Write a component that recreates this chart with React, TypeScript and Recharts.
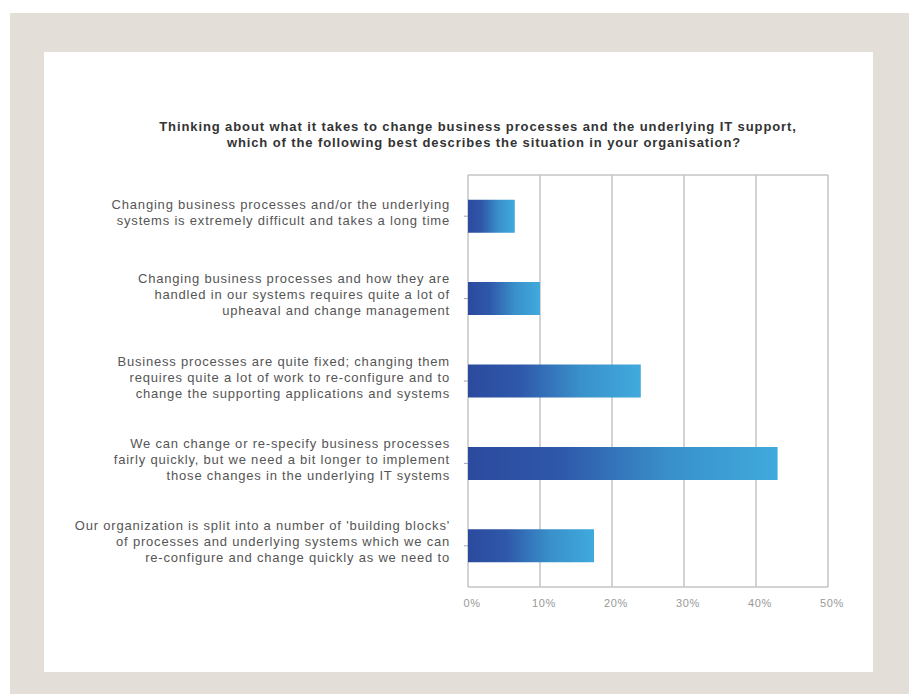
import React from "react";
import { BarChart, Bar, XAxis, YAxis, CartesianGrid } from "recharts";

const titleLines = [
  "Thinking about what it takes to change business processes and the underlying IT support,",
  "which of the following best describes the situation in your organisation?",
];

const categories = [
  "Changing business processes and/or the underlying|systems is extremely difficult and takes a long time",
  "Changing business processes and how they are|handled in our systems requires quite a lot of|upheaval and change management",
  "Business processes are quite fixed; changing them|requires quite a lot of work to re-configure and to|change the supporting applications and systems",
  "We can change or re-specify business processes|fairly quickly, but we need a bit longer to implement|those changes in the underlying IT systems",
  "Our organization is split into a number of 'building blocks'|of processes and underlying systems which we can|re-configure and change quickly as we need to",
];

const values = [6.5, 10, 24, 43, 17.5];
const xTicks = [0, 10, 20, 30, 40, 50];

const data = categories.map((c, i) => ({ name: c, value: values[i] }));

const FONT = "'Liberation Sans', Arial, Helvetica, sans-serif";

const YTick = (props: any) => {
  const { y, payload } = props;
  const lines: string[] = String(payload.value).split("|");
  const lh = 16;
  const startY = y - ((lines.length - 1) * lh) / 2 - 4;
  return (
    <g>
      <line x1={464} x2={468} y1={y} y2={y} stroke="#9aa4c0" strokeWidth={1} />
      <text x={450} y={startY} textAnchor="end" fontFamily={FONT} fontSize={13} letterSpacing={0.8} fill="#555">
        {lines.map((l, i) => (
          <tspan key={i} x={450} y={startY + i * lh} dominantBaseline="central">
            {l}
          </tspan>
        ))}
      </text>
    </g>
  );
};

const XTick = (props: any) => {
  const { x, y, payload } = props;
  return (
    <text x={x + 4} y={y + 12} textAnchor="middle" fontFamily={FONT} fontSize={11} letterSpacing={0.6} fill="#999">
      {payload.value}%
    </text>
  );
};

export default function App() {
  return (
    <div style={{ position: "absolute", left: 0, top: 0, width: 909, height: 694, background: "#fff", overflow: "hidden" }}>
      <div style={{ position: "absolute", left: 10, top: 13, width: 899, height: 681, background: "#e3dfd8" }} />
      <div style={{ position: "absolute", left: 44, top: 52, width: 829, height: 620, background: "#ffffff" }} />
      <div style={{ position: "absolute", left: 0, top: 0 }}>
        <BarChart
          width={909}
          height={694}
          data={data}
          layout="vertical"
          barCategoryGap="30%"
          margin={{ top: 175, right: 81, bottom: 77, left: 68 }}
        >
          <defs>
            <linearGradient id="barGrad" x1="0" y1="0" x2="1" y2="0">
              <stop offset="0%" stopColor="#2b4a9e" />
              <stop offset="30%" stopColor="#2f58aa" />
              <stop offset="65%" stopColor="#3990ca" />
              <stop offset="100%" stopColor="#40aadd" />
            </linearGradient>
          </defs>
          <text textAnchor="middle" fontFamily={FONT} fontSize={13} letterSpacing={0.9} fontWeight="bold" fill="#333">
            <tspan x={478} y={131}>{titleLines[0]}</tspan>
            <tspan x={484} y={147}>{titleLines[1]}</tspan>
          </text>
          <CartesianGrid
            stroke="#c4c4c4"
            strokeWidth={1.5}
            vertical={true}
            horizontal={true}
            horizontalCoordinatesGenerator={(p: any) => [p.offset.top, p.offset.top + p.offset.height]}
          />
          <XAxis
            type="number"
            domain={[0, 50]}
            ticks={xTicks}
            axisLine={false}
            tickLine={false}
            tick={<XTick />}
            height={30}
          />
          <YAxis
            type="category"
            dataKey="name"
            width={400}
            axisLine={false}
            tickLine={false}
            tick={<YTick />}
            interval={0}
          />
          <Bar dataKey="value" fill="url(#barGrad)" isAnimationActive={false} />
        </BarChart>
      </div>
    </div>
  );
}
